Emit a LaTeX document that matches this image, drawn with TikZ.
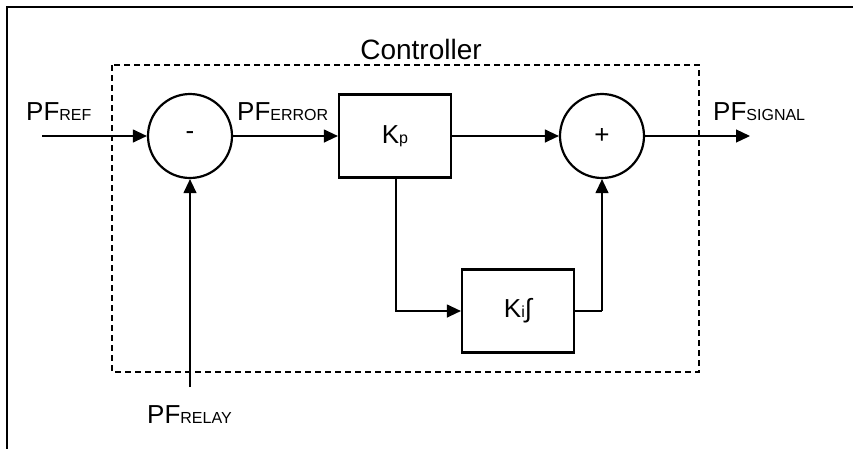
\documentclass[tikz,border=0pt]{standalone}
\usepackage{fontspec}
\setmainfont{Liberation Sans}
\usetikzlibrary{arrows.meta}
\newcommand{\mainsz}{\fontsize{26}{30}\selectfont}
\newcommand{\subsz}{\fontsize{16}{18}\selectfont}
\newcommand{\lbl}[2]{{\mainsz #1}{\subsz #2}}
\begin{document}
\begin{tikzpicture}[x=1pt,y=-1pt,
  sumnode/.style={circle,draw,line width=2.2pt,minimum size=84pt,inner sep=0pt,font=\mainsz},
  blocknode/.style={rectangle,draw,line width=2.2pt,minimum width=112pt,minimum height=83pt,inner sep=0pt,font=\mainsz},
  conn/.style={line width=1.2pt,-{Triangle[length=14pt,width=13pt]}},
  plain/.style={line width=1.2pt},
  txt/.style={inner sep=0pt,anchor=base west}]
\useasboundingbox (0,0) rectangle (853,448);
% outer frame
\draw[line width=2.6pt] (7,450) -- (7,7) -- (855,7);
% controller boundary
\draw[line width=2pt,dash pattern=on 6pt off 4pt] (112,65) rectangle (699,372);
\node[inner sep=0pt,anchor=base] (ctl) at (421,59) {\fontsize{28}{32}\selectfont Controller};
% blocks
\node[sumnode] (s1) at (190,136) {-};
\node[blocknode] (kp) at (395,136) {K{\subsz p}};
\node[sumnode] (s2) at (602,136) {+};
\node[blocknode] (ki) at (518,311) {K{\subsz i}∫};
% free ends
\coordinate (inref) at (42,136);
\coordinate (inrelay) at (190,387);
\coordinate (out) at (750,136);
\coordinate (kpdown) at (396,177.5);
\coordinate (kiup) at (602,311);
% connectors
\draw[conn] (inref) -- (s1.west);
\draw[conn] (s1.east) -- (kp.west);
\draw[conn] (kp.east) -- (s2.west);
\draw[conn] (s2.east) -- (out);
\draw[conn] (inrelay) -- (s1.south);
\draw[conn] (kpdown) |- (ki.west);
\draw[plain] (ki.east) -- (kiup);
\draw[conn] (kiup) -- (s2.south);
% labels
\node[txt] (lref) at (26,120) {\lbl{PF}{REF}};
\node[txt] (lerr) at (237,120) {\lbl{PF}{ERROR}};
\node[txt] (lsig) at (713,120) {\lbl{PF}{SIGNAL}};
\node[txt] (lrel) at (147,423) {\lbl{PF}{RELAY}};
\end{tikzpicture}
\end{document}
